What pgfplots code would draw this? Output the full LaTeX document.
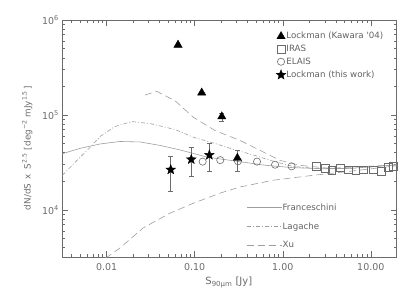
\documentclass[border=0pt]{standalone}
\usepackage{fontspec}
\setmainfont{DejaVu Sans}
\usepackage{pgfplots}
\pgfplotsset{compat=1.18}
\definecolor{axgray}{gray}{0.42}
\definecolor{lngray}{gray}{0.62}
\definecolor{txtgray}{gray}{0.38}
\newdimen\starin
\makeatletter
\pgfdeclareplotmark{fstar}{%
  \starin=0.42\pgfplotmarksize
  \pgfpathmoveto{\pgfqpointpolar{90}{\pgfplotmarksize}}%
  \pgfpathlineto{\pgfqpointpolar{126}{\starin}}%
  \pgfpathlineto{\pgfqpointpolar{162}{\pgfplotmarksize}}%
  \pgfpathlineto{\pgfqpointpolar{198}{\starin}}%
  \pgfpathlineto{\pgfqpointpolar{234}{\pgfplotmarksize}}%
  \pgfpathlineto{\pgfqpointpolar{270}{\starin}}%
  \pgfpathlineto{\pgfqpointpolar{306}{\pgfplotmarksize}}%
  \pgfpathlineto{\pgfqpointpolar{342}{\starin}}%
  \pgfpathlineto{\pgfqpointpolar{18}{\pgfplotmarksize}}%
  \pgfpathlineto{\pgfqpointpolar{54}{\starin}}%
  \pgfpathclose
  \pgfusepathqfillstroke
}
\makeatother
\begin{document}
\begin{tikzpicture}
\begin{axis}[
  scale only axis, width=334.4bp, height=237.3bp,
  xmode=log, ymode=log,
  xmin=0.00313, xmax=19.7, ymin=3162, ymax=1e6,
  axis line style={axgray, line width=0.6bp},
  xtick={0.01,0.1,1,10}, xticklabels={0.01,0.10,1.00,10.00},
  minor xtick={0.004,0.005,0.006,0.007,0.008,0.009,0.02,0.03,0.04,0.05,0.06,0.07,0.08,0.09,0.2,0.3,0.4,0.5,0.6,0.7,0.8,0.9,2,3,4,5,6,7,8,9},
  ytick={1e4,1e5,1e6}, yticklabels={10\textsuperscript{4},10\textsuperscript{5},10\textsuperscript{6}},
  minor ytick={4000,5000,6000,7000,8000,9000,20000,30000,40000,50000,60000,70000,80000,90000,200000,300000,400000,500000,600000,700000,800000,900000},
  tick style={axgray, line width=0.5bp},
  major tick length=6bp, minor tick length=3bp,
  tick align=inside,
  ticklabel style={font=\fontsize{9.5}{11}\selectfont, text=axgray},
  xticklabel style={yshift=-3bp},
  xlabel={S\textsubscript{90μm} [Jy]},
  ylabel={dN/dS\hspace{2bp} x\hspace{2bp} S\textsuperscript{2.5} [\hspace{1bp}deg\textsuperscript{−2} mJy\textsuperscript{1.5}\hspace{1bp}]},
  label style={text=axgray},
  xlabel style={font=\fontsize{10}{12}\selectfont, at={(rel axis cs:0.498,0)}, anchor=center, yshift=-25bp},
  ylabel style={font=\fontsize{8.8}{11}\selectfont, at={(rel axis cs:-0.1047,0.46)}, anchor=center},
  legend image code/.code={\draw[#1] plot coordinates {(0bp,0bp)};},
  legend cell align=left,
  legend style={draw=none, fill=none, inner sep=0pt, at={(rel axis cs:0.639,0.952)}, anchor=north west,
    font=\fontsize{8.7}{10}\selectfont, text=txtgray, nodes={inner sep=0.6bp}, row sep=3.5bp},
  error bars/error bar style={axgray, line width=0.6bp},
]
% models
\addplot[lngray, line width=0.6bp, forget plot] coordinates {
 (0.00313,3.9e4) (0.00498,4.44e4) (0.0084,4.94e4) (0.01416,5.25e4) (0.0239,5.19e4)
 (0.0404,4.77e4) (0.068,4.28e4) (0.137,3.6e4) (0.30,3.25e4) (0.63,2.95e4)
 (1.31,2.78e4) (2.65,2.72e4) (5.8,2.73e4) (19.7,2.98e4)};
\addplot[lngray, line width=0.6bp, dash pattern=on 4bp off 2bp on 1bp off 2bp, forget plot] coordinates {
 (0.00313,2.31e4) (0.0046,3.32e4) (0.00646,4.54e4) (0.0084,5.93e4) (0.0124,7.54e4)
 (0.0192,8.51e4) (0.031,8.11e4) (0.0597,7.02e4) (0.0967,5.82e4) (0.170,5.0e4)
 (0.30,4.23e4) (0.484,3.74e4) (0.72,3.32e4) (1.31,2.87e4) (2.65,2.70e4) (5.8,2.73e4) (19.7,2.98e4)};
\addplot[lngray, line width=0.6bp, dash pattern=on 7bp off 4bp, forget plot] coordinates {
 (0.0272,1.62e5) (0.037,1.77e5) (0.0597,1.41e5) (0.0967,9.44e4) (0.170,6.84e4)
 (0.327,5.38e4) (0.552,4.23e4) (0.93,3.32e4) (1.57,2.94e4) (3.44,2.74e4) (19.7,2.98e4)};
\addplot[lngray, line width=0.6bp, dash pattern=on 7bp off 4bp, forget plot] coordinates {
 (0.0097,3.1e3) (0.0142,3.97e3) (0.0258,6.43e3) (0.0524,9.23e3) (0.0957,1.17e4)
 (0.194,1.50e4) (0.327,1.74e4) (0.777,2.05e4) (2.21,2.31e4) (5.8,2.55e4) (19.7,2.91e4)};
% ELAIS
\addplot[only marks, mark=o, mark size=3.6bp, mark options={draw=axgray, line width=0.6bp}, forget plot] coordinates {
 (0.123,3.22e4) (0.195,3.34e4) (0.31,3.25e4) (0.51,3.22e4) (0.818,2.99e4) (1.26,2.87e4)};
% IRAS
\addplot[only marks, mark=square, mark size=3.8bp, mark options={draw=axgray, line width=0.6bp}, forget plot] coordinates {
 (2.39,2.89e4) (3.03,2.72e4) (3.60,2.61e4) (4.48,2.78e4) (5.56,2.65e4) (6.76,2.61e4)
 (8.24,2.65e4) (10.7,2.65e4) (13.1,2.56e4) (15.8,2.82e4) (18.1,2.87e4)};
% Kawara
\addplot[only marks, mark=triangle*, mark size=4.8bp, mark options={fill=black, draw=black}, forget plot] coordinates {
 (0.0646,5.46e5) (0.120,1.71e5)};
\addplot[only marks, mark=triangle*, mark size=4.8bp, mark options={fill=black, draw=black},
  error bars/.cd, y dir=both, y explicit, error mark options={rotate=90, mark size=2.5bp, axgray, line width=0.6bp}] coordinates {
 (0.203,9.6e4) += (0,0.9e4) -= (0,1.0e4)
 (0.305,3.51e4) += (0,0.72e4) -= (0,0.96e4)};
\addlegendentry{Lockman (Kawara \textquotesingle 04)}
\addlegendimage{only marks, mark=square, mark size=3.8bp, mark options={draw=axgray, line width=0.6bp}}
\addlegendentry{IRAS}
\addlegendimage{only marks, mark=o, mark size=3.6bp, mark options={draw=axgray, line width=0.6bp}}
\addlegendentry{ELAIS}
% this work
\addplot[only marks, mark=fstar, mark size=5.1bp, mark options={fill=black, draw=black},
  error bars/.cd, y dir=both, y explicit, error mark options={rotate=90, mark size=2.5bp, axgray, line width=0.6bp}] coordinates {
 (0.0534,2.65e4) += (0,1.03e4) -= (0,1.08e4)
 (0.0914,3.40e4) += (0,1.14e4) -= (0,1.15e4)
 (0.1466,3.78e4) += (0,1.19e4) -= (0,1.25e4)};
\addlegendentry{Lockman (this work)}
\end{axis}
\begin{axis}[
  scale only axis, width=334.4bp, height=237.3bp,
  hide axis, xmin=0, xmax=1, ymin=0, ymax=1,
  legend image code/.code={\draw[#1] (0bp,0bp) -- (35bp,0bp);},
  legend cell align=left,
  legend style={draw=none, fill=none, inner sep=0pt, at={(rel axis cs:0.550,0.229)}, anchor=north west,
    font=\fontsize{8.7}{10}\selectfont, text=txtgray, nodes={inner sep=0.6bp}, row sep=9.5bp,
    /tikz/every even column/.style={column sep=3.5bp}},
]
\addlegendimage{lngray, line width=0.6bp}
\addlegendentry{Franceschini}
\addlegendimage{lngray, line width=0.6bp, dash pattern=on 4bp off 2bp on 1bp off 2bp}
\addlegendentry{Lagache}
\addlegendimage{lngray, line width=0.6bp, dash pattern=on 7bp off 4bp}
\addlegendentry{Xu}
\end{axis}
\pgfresetboundingbox
\path (-62.3bp,-39.7bp) rectangle (352.7bp,257.3bp);
\end{tikzpicture}
\end{document}
